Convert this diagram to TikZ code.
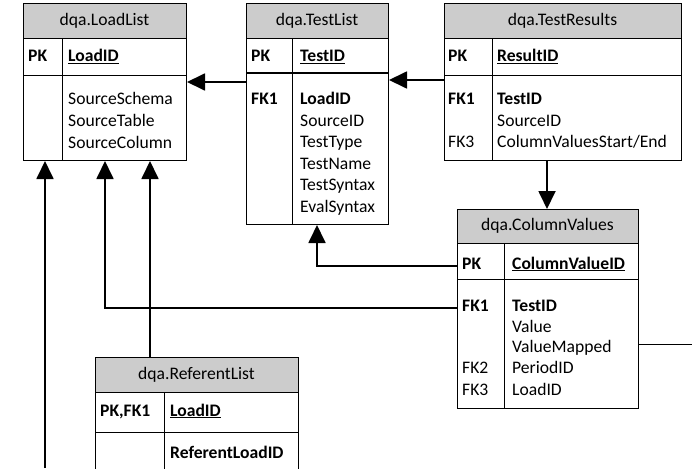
\documentclass[tikz,border=0pt]{standalone}
\usepackage{fontspec}
\setmainfont{Carlito}
\usetikzlibrary{arrows.meta}
\definecolor{hdrgray}{RGB}{204,204,204}
\newcommand\tblfont{\fontsize{17.6}{20}\selectfont}
\tikzset{
  tblframe/.style={draw, line width=1pt, inner sep=0pt, anchor=north west},
  hdrfill/.style={fill=hdrgray},
  rowline/.style={line width=1pt},
  tbltitle/.style={inner sep=0pt, font=\tblfont},
  keytxt/.style={anchor=base west, inner sep=0pt, font=\tblfont\bfseries},
  plaintxt/.style={anchor=base west, inner sep=0pt, font=\tblfont},
  rel/.style={line width=1.8pt, -{Triangle[length=18pt,width=17pt]}},
}
\begin{document}
\begin{tikzpicture}[x=1pt, y=-1pt]
\useasboundingbox (0,0) rectangle (692,468);

% dqa.LoadList
\fill[hdrfill] (23,3) rectangle (186,39);
\node[tblframe, minimum width=163pt, minimum height=157pt] (loadlist) at (23,3) {};
\draw[rowline] (23,39) -- (186,39);
\draw[rowline] (23,76) -- (186,76);
\draw[rowline] (62,39) -- (62,160);
\node[tbltitle] (load-title) at (104.5,21) {dqa.LoadList};
\node[keytxt] (load-pk) at (28,62) {PK};
\node[plaintxt] (load-id) at (68,62) {\underline{\textbf{LoadID}}};
\foreach \y / \f in {105/SourceSchema, 126/SourceTable, 148/SourceColumn}
  \node[plaintxt] (load-\f) at (68,\y) {\f};

% dqa.TestList
\fill[hdrfill] (246,3) rectangle (388,39);
\node[tblframe, minimum width=142pt, minimum height=221pt] (testlist) at (246,3) {};
\draw[rowline] (246,39) -- (388,39);
\draw[line width=2pt] (246,73) -- (388,73);
\draw[rowline] (292,39) -- (292,224);
\node[tbltitle] (test-title) at (317,21) {dqa.TestList};
\node[keytxt] (test-pk) at (251,62) {PK};
\node[plaintxt] (test-id) at (300,62) {\underline{\textbf{TestID}}};
\node[keytxt] (test-fk1) at (251,104) {FK1};
\node[plaintxt] (test-load) at (300,104) {\textbf{LoadID}};
\foreach \y / \f in {126/SourceID, 147/TestType, 169/TestName, 190/TestSyntax, 212/EvalSyntax}
  \node[plaintxt] (test-\f) at (300,\y) {\f};

% dqa.TestResults
\fill[hdrfill] (444,3) rectangle (681,39);
\node[tblframe, minimum width=237pt, minimum height=157pt] (testresults) at (444,3) {};
\draw[rowline] (444,39) -- (681,39);
\draw[rowline] (444,76) -- (681,76);
\draw[rowline] (492,39) -- (492,160);
\node[tbltitle] (res-title) at (562.5,21) {dqa.TestResults};
\node[keytxt] (res-pk) at (448,62) {PK};
\node[plaintxt] (res-id) at (497,62) {\underline{\textbf{ResultID}}};
\node[keytxt] (res-fk1) at (448,104) {FK1};
\node[plaintxt] (res-test) at (497,104) {\textbf{TestID}};
\node[plaintxt] (res-src) at (497,126) {SourceID};
\node[plaintxt] (res-fk3) at (448,147) {FK3};
\node[plaintxt] (res-cv) at (497,147) {ColumnValuesStart/End};

% dqa.ColumnValues
\fill[hdrfill] (457,209) rectangle (638,243);
\node[tblframe, minimum width=181pt, minimum height=199pt] (columnvalues) at (457,209) {};
\draw[rowline] (457,243) -- (638,243);
\draw[rowline] (457,279) -- (638,279);
\draw[rowline] (504,243) -- (504,408);
\node[tbltitle] (cv-title) at (547.5,226) {dqa.ColumnValues};
\node[keytxt] (cv-pk) at (462,269) {PK};
\node[plaintxt] (cv-id) at (512,269) {\underline{\textbf{ColumnValueID}}};
\node[keytxt] (cv-fk1) at (462,311) {FK1};
\node[plaintxt] (cv-test) at (512,311) {\textbf{TestID}};
\node[plaintxt] (cv-value) at (512,332) {Value};
\node[plaintxt] (cv-mapped) at (512,352) {ValueMapped};
\node[plaintxt] (cv-fk2) at (462,373) {FK2};
\node[plaintxt] (cv-period) at (512,373) {PeriodID};
\node[plaintxt] (cv-fk3) at (462,395) {FK3};
\node[plaintxt] (cv-load) at (512,395) {LoadID};

% dqa.ReferentList
\fill[hdrfill] (95,357) rectangle (298,392);
\node[tblframe, minimum width=203pt, minimum height=123pt] (referentlist) at (95,357) {};
\draw[rowline] (95,392) -- (298,392);
\draw[rowline] (95,432) -- (298,432);
\draw[rowline] (164,392) -- (164,480);
\node[tbltitle] (ref-title) at (196.5,375) {dqa.ReferentList};
\node[keytxt] (ref-pk) at (100,416) {PK,FK1};
\node[plaintxt] (ref-id) at (170,416) {\underline{\textbf{LoadID}}};
\node[plaintxt] (ref-load) at (170,458) {\textbf{ReferentLoadID}};

% relations
\draw[rel] (testlist.west |- 0,82) -- (loadlist.east |- 0,82);
\draw[rel] (testresults.west |- 0,80) -- (testlist.east |- 0,80);
\draw[rel] (testresults.south -| 547,0) -- (columnvalues.north -| 547,0);
\draw[rel] (columnvalues.west |- 0,266) -| (testlist.south -| 317,0);
\draw[rel] (columnvalues.west |- 0,308) -| (loadlist.south -| 105,0);
\draw[rel] (referentlist.north -| 150,0) -- (loadlist.south -| 150,0);
\coordinate (offbottom) at (45,468);
\draw[rel] (offbottom) -- (loadlist.south -| 45,0);
\coordinate (offright) at (692,344);
\draw[rowline] (columnvalues.east |- offright) -- (offright);
\end{tikzpicture}
\end{document}
